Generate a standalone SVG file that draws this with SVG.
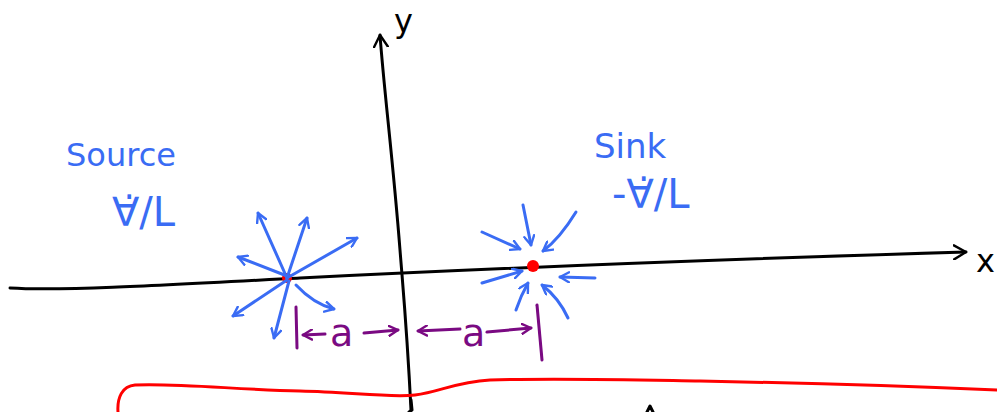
<svg xmlns="http://www.w3.org/2000/svg" width="997" height="412" viewBox="0 0 997 412">
<style>
.ax{fill:none;stroke:#000;stroke-width:3;stroke-linecap:round;stroke-linejoin:round}
.bl{fill:none;stroke:#3a6cf4;stroke-width:3;stroke-linecap:round;stroke-linejoin:round}
.pu{fill:none;stroke:#7a0a82;stroke-width:3;stroke-linecap:round;stroke-linejoin:round}
.rd{fill:none;stroke:#ff0000;stroke-width:3;stroke-linecap:round;stroke-linejoin:round}
.tb{fill:#3a6cf4;font-family:"DejaVu Sans",sans-serif}
.tk{fill:#000;font-family:"DejaVu Sans",sans-serif}
.tp{fill:#7a0a82;font-family:"DejaVu Sans",sans-serif;font-size:38px}
</style>
<defs>
<marker id="mb" viewBox="0 0 12 12" refX="10" refY="6" markerWidth="12" markerHeight="12" markerUnits="userSpaceOnUse" orient="auto"><path d="M1,1 L10,6 L1,11" fill="none" stroke="#3a6cf4" stroke-width="2.4" stroke-linecap="round" stroke-linejoin="round"/></marker>
<marker id="mp" viewBox="0 0 12 12" refX="10" refY="6" markerWidth="12" markerHeight="12" markerUnits="userSpaceOnUse" orient="auto"><path d="M1,1 L10,6 L1,11" fill="none" stroke="#7a0a82" stroke-width="2.4" stroke-linecap="round" stroke-linejoin="round"/></marker>
<marker id="mk" viewBox="0 0 16 16" refX="13" refY="8" markerWidth="16" markerHeight="16" markerUnits="userSpaceOnUse" orient="auto"><path d="M1,1 L13,8 L1,15" fill="none" stroke="#000" stroke-width="2.4" stroke-linecap="round" stroke-linejoin="round"/></marker>
</defs>

<g id="axes">
<path class="ax" d="M10,288 C60,291 150,286 300,278 C500,268 700,260 966,252" marker-end="url(#mk)"/>
<path class="ax" d="M411,410 C407,330 404,300 400,250 C393,160 384,90 380,35" marker-end="url(#mk)"/>
<path class="ax" d="M411,400 L412,410 L409,412"/>
<path class="ax" d="M647,412 L650,406 L653,412"/>
<text class="tk" x="976" y="272" font-size="32">x</text>
<text class="tk" x="394" y="32" font-size="32">y</text>
</g>

<g id="source">
<circle cx="287" cy="278" r="5" fill="#ff0000"/>
<text class="tb" x="66" y="166" font-size="32">Source</text>
<text class="tb" x="112" y="226" font-size="40">∀̇/L</text>
</g>

<g id="sink">
<circle cx="533" cy="266" r="6" fill="#ff0000"/>
<text class="tb" x="594" y="158" font-size="34">Sink</text>
<text class="tb" x="612" y="208" font-size="40">-∀̇/L</text>
</g>

<g id="connectors">
<path class="bl" d="M287,278 L258,213" marker-end="url(#mb)"/>
<path class="bl" d="M287,278 L307,218" marker-end="url(#mb)"/>
<path class="bl" d="M287,278 L357,238" marker-end="url(#mb)"/>
<path class="bl" d="M287,276 L238,257" marker-end="url(#mb)"/>
<path class="bl" d="M287,280 L233,316" marker-end="url(#mb)"/>
<path class="bl" d="M289,281 L274,338" marker-end="url(#mb)"/>
<path class="bl" d="M296,285 C310,300 322,306 334,309" marker-end="url(#mb)"/>

<path class="bl" d="M482,232 L520,249" marker-end="url(#mb)"/>
<path class="bl" d="M523,205 L531,245" marker-end="url(#mb)"/>
<path class="bl" d="M576,212 C565,230 555,242 543,251" marker-end="url(#mb)"/>
<path class="bl" d="M482,283 L522,271" marker-end="url(#mb)"/>
<path class="bl" d="M595,278 L560,277" marker-end="url(#mb)"/>
<path class="bl" d="M516,310 C520,298 524,290 528,283" marker-end="url(#mb)"/>
<path class="bl" d="M568,318 C562,305 555,295 542,285" marker-end="url(#mb)"/>

<path class="pu" d="M296,307 L297,348"/>
<path class="pu" d="M325,334 L303,335" marker-end="url(#mp)"/>
<path class="pu" d="M364,333 L398,330" marker-end="url(#mp)"/>
<path class="pu" d="M460,329 L418,331" marker-end="url(#mp)"/>
<path class="pu" d="M487,332 L531,328" marker-end="url(#mp)"/>
<path class="pu" d="M537,305 L542,360"/>
<text class="tp" x="330" y="346">a</text>
<text class="tp" x="462" y="346">a</text>

<path class="rd" d="M118,412 C117,398 122,386 135,385 C180,383 240,390 300,391 C350,392 390,398 415,395 C440,392 455,382 490,380 C560,378 640,380 700,381 C800,383 900,386 997,390"/>
</g>
</svg>
